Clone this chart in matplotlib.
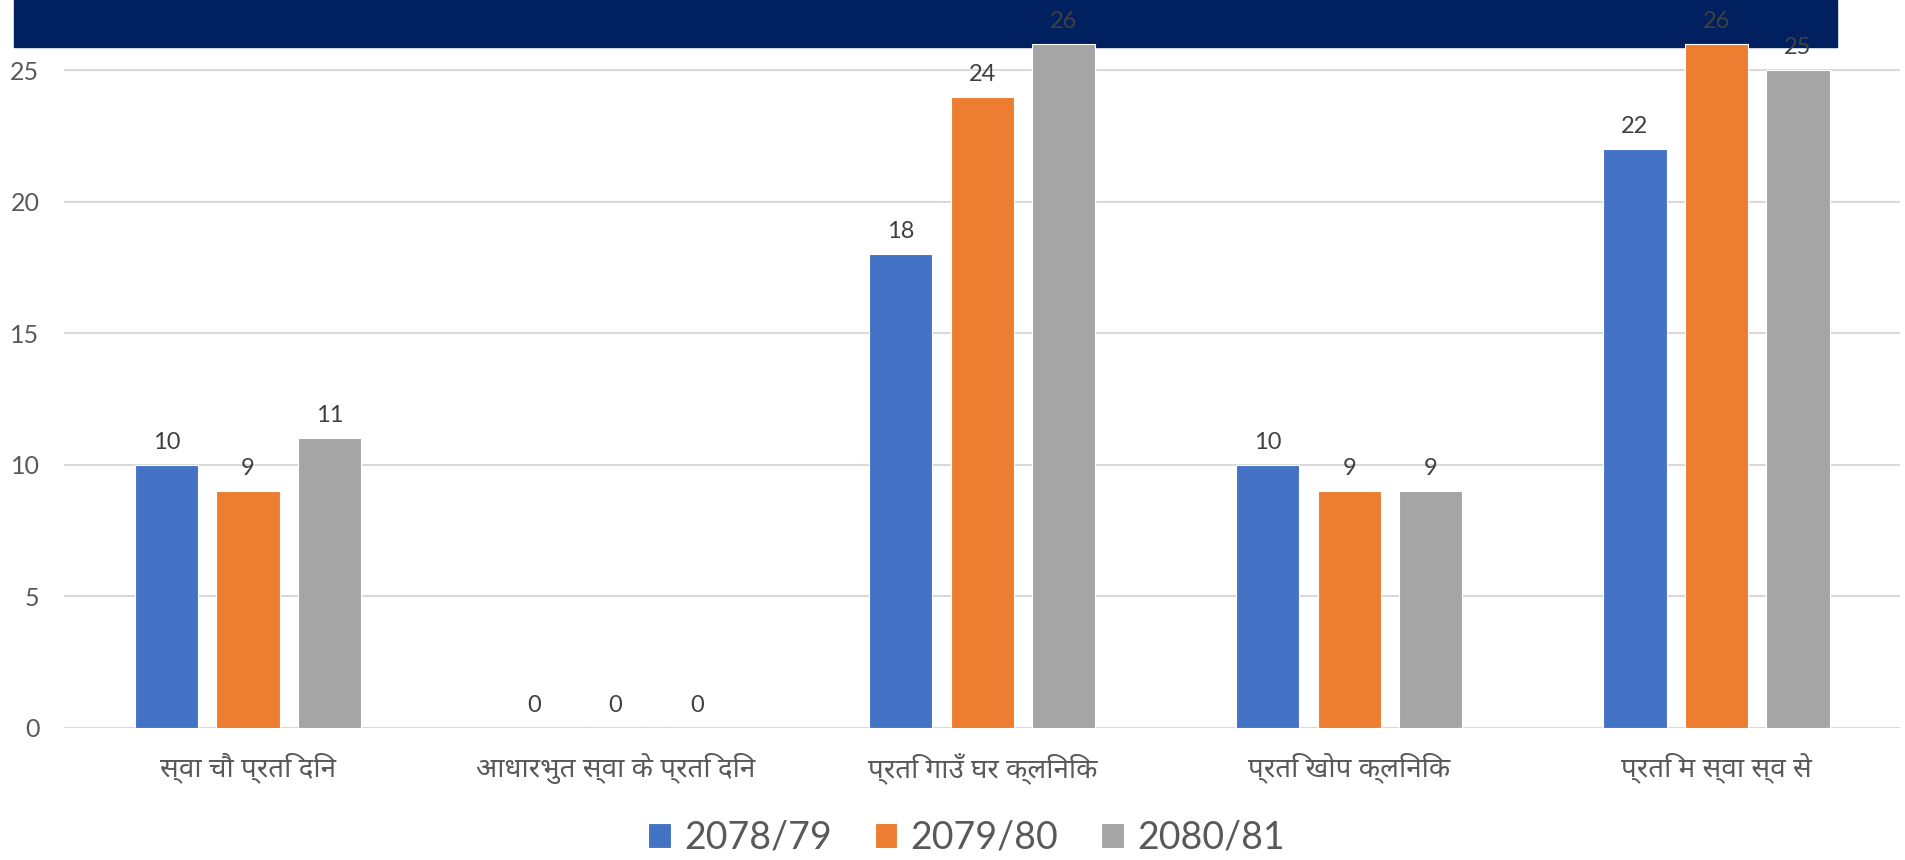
import numpy as np
import matplotlib
matplotlib.use("Agg")
from matplotlib import pyplot as plt
from matplotlib import font_manager

categories = ["स्वा चौ प्रति दिन", "आधारभुत स्वा के प्रति दिन", "प्रति गाउँ घर क्लिनिक",
              "प्रति खोप क्लिनिक", "प्रति म स्वा स्व से"]
years = ["2078/79", "2079/80", "2080/81"]
v_7879 = [10, 0, 18, 10, 22]
v_7980 = [9, 0, 24, 9, 26]
v_8081 = [11, 0, 26, 9, 25]
colors = ["#4472C4", "#ED7D31", "#A5A5A5"]

# pick a devanagari font that is installed
names = set(f.name for f in font_manager.fontManager.ttflist)
deva = [n for n in ["Noto Sans Devanagari", "Hind", "Mukta", "Ek Mukta", "Akshar"] if n in names][:1]

fig = plt.figure(figsize=(19.06, 8.6), dpi=100)
fig.patches.append(plt.Rectangle((14/1906, 1-46.5/860), (1837-14)/1906, 46.5/860,
                                 transform=fig.transFigure, color="#00205F", zorder=-1))
ax = fig.add_axes([64.5/1906, 1-727.7/860, (1900-64.5)/1906, 727.7/860])
ax.patch.set_alpha(0)

x = np.arange(len(categories))
w = 0.172
step = 0.222
for i, (vals, c) in enumerate(zip([v_7879, v_7980, v_8081], colors)):
    bars = ax.bar(x + (i-1)*step, vals, w, color=c, edgecolor="white", linewidth=0.8,
                  label=years[i], zorder=3)
    for b, v in zip(bars, vals):
        ax.annotate(str(v), (b.get_x()+b.get_width()/2, v), xytext=(0, 11.5),
                    textcoords="offset points", ha="center", va="baseline",
                    fontsize=17, color="#404040", family="Lato", zorder=4)

ax.set_xlim(-0.5, 4.5)
ax.set_ylim(0, 727.7/26.3)
ax.set_yticks([0, 5, 10, 15, 20, 25])
ax.grid(axis="y", color="#D9D9D9", linewidth=1.5, zorder=0)
for s in ax.spines.values():
    s.set_visible(False)
ax.tick_params(length=0)
ax.tick_params(axis="y", pad=18, labelsize=18, labelcolor="#595959")
ax.set_xticks(x)
ax.set_xticklabels(categories, fontsize=20, color="#595959", family=deva + ["DejaVu Sans"])
ax.tick_params(axis="x", pad=18)
for t in ax.get_yticklabels():
    t.set_family("Lato")

fig.legend(loc="center", bbox_to_anchor=(0.507, 0.026), ncol=3, frameon=False,
           prop={"family": "Lato", "size": 27}, handlelength=0.6, handleheight=0.65,
           columnspacing=1.15, handletextpad=0.35, labelcolor="#595959")

fig.savefig("out.png", dpi=100)
